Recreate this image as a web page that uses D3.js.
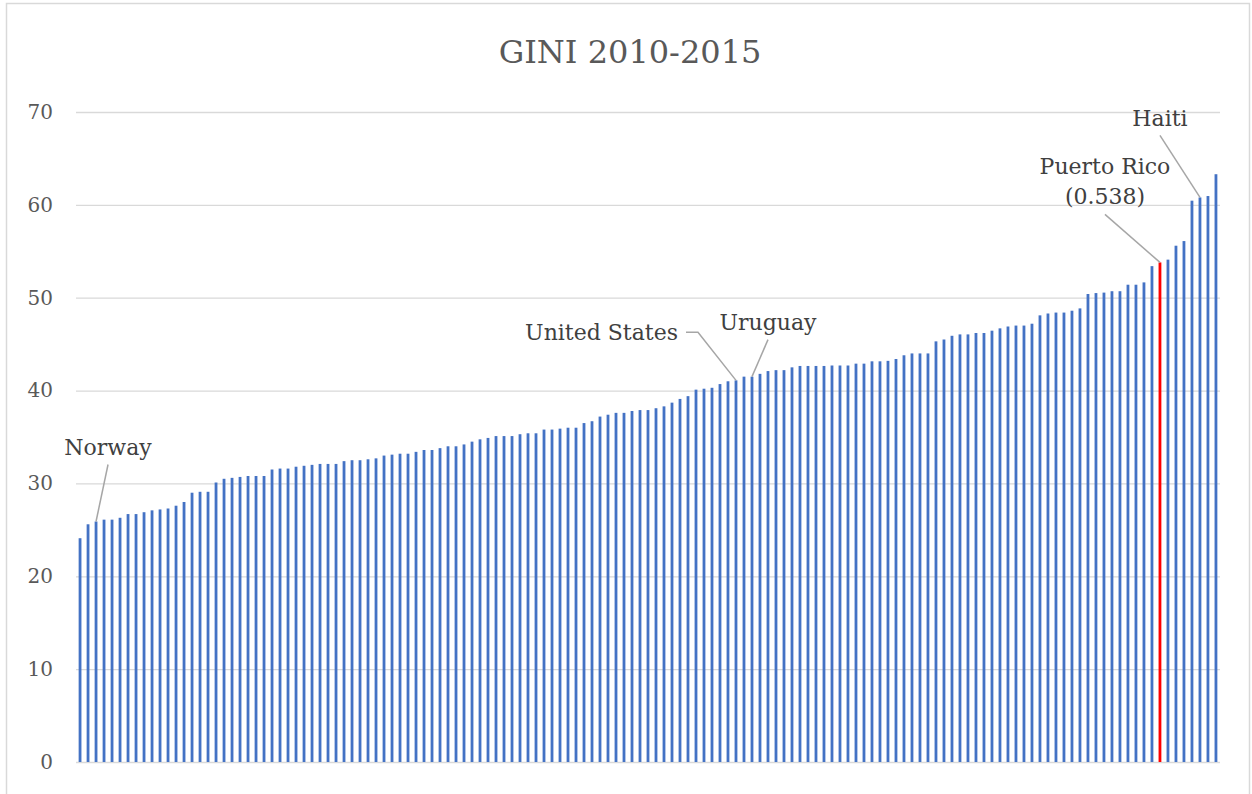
<!DOCTYPE html>
<html>
<head>
<meta charset="utf-8">
<script src="https://cdn.jsdelivr.net/npm/d3@7"></script>
<style>
  body { margin: 0; background: #fff; }
  text { font-family: "DejaVu Serif", serif; }
</style>
</head>
<body>
<svg id="chart" width="1252" height="794"></svg>
<script>
// GINI index per country, 2010-2015, sorted low to high
var gini = [
  24.1, 25.6, 25.9, 26.1, 26.1, 26.3, 26.7, 26.7, 26.9, 27.1,
  27.2, 27.3, 27.6, 28.0, 29.0, 29.1, 29.1, 30.1, 30.5, 30.6,
  30.7, 30.8, 30.8, 30.8, 31.5, 31.6, 31.6, 31.8, 31.9, 32.0,
  32.1, 32.1, 32.1, 32.4, 32.5, 32.5, 32.6, 32.7, 33.0, 33.1,
  33.2, 33.2, 33.4, 33.6, 33.6, 33.8, 34.0, 34.0, 34.2, 34.5,
  34.75, 34.9, 35.1, 35.1, 35.1, 35.3, 35.4, 35.4, 35.8, 35.8,
  35.9, 36.0, 36.0, 36.5, 36.7, 37.2, 37.4, 37.6, 37.6, 37.8,
  37.9, 37.9, 38.1, 38.3, 38.7, 39.1, 39.4, 40.1, 40.2, 40.3,
  40.7, 41.0, 41.1, 41.5, 41.5, 41.8, 42.1, 42.2, 42.2, 42.5,
  42.65, 42.65, 42.65, 42.65, 42.7, 42.7, 42.7, 42.9, 42.9, 43.15,
  43.15, 43.2, 43.4, 43.8, 44.0, 44.0, 44.0, 45.3, 45.5, 45.9,
  46.05, 46.05, 46.2, 46.2, 46.45, 46.7, 46.9, 47.0, 47.0, 47.2,
  48.1, 48.3, 48.4, 48.4, 48.6, 48.85, 50.4, 50.5, 50.55, 50.7,
  50.7, 51.4, 51.4, 51.65, 53.4, 53.8, 54.1, 55.6, 56.1, 60.45,
  60.8, 60.95, 63.3
];

// position (0-based) of the named countries in the sorted list
var namedIndex = [2, 82, 84, 135, 140];
var namedLabel = ['Norway', 'United States', 'Uruguay', 'Puerto Rico\n(0.538)', 'Haiti'];
var highlightIndex = 135;

var yTicks = [0, 10, 20, 30, 40, 50, 60, 70];

var svg = d3.select('#chart');

var x = d3.scaleBand()
  .domain(d3.range(gini.length))
  .range([76, 1220])
  .paddingInner(0.65)
  .paddingOuter(0.33)
  ;

var y = d3.scaleLinear()
  .domain([0, 70])
  .range([762, 112])
  ;

// chart frame
svg.append('rect')
  .attr('x', 6.5)
  .attr('y', 3.5)
  .attr('width', 1243)
  .attr('height', 820)
  .attr('fill', 'none')
  .attr('stroke', '#d9d9d9')
  .attr('stroke-width', 1.5)
  ;

svg.append('text')
  .attr('x', 630)
  .attr('y', 63)
  .attr('text-anchor', 'middle')
  .attr('fill', '#595959')
  .style('font-size', '32px')
  .text('GINI 2010-2015')
  ;

// gridlines + tick labels
var yAxis = d3.axisLeft(y)
  .tickValues(yTicks)
  .tickSize(-(1220 - 76))
  .tickPadding(23)
  ;

var gy = svg.append('g')
  .attr('transform', 'translate(76,0)')
  .call(yAxis)
  ;
gy.select('.domain').remove();
gy.selectAll('.tick line')
  .attr('stroke', '#d9d9d9')
  .attr('stroke-width', 1.3)
  ;
gy.selectAll('.tick text')
  .attr('fill', '#595959')
  .style('font-family', '"DejaVu Serif", serif')
  .style('font-size', '20px')
  ;

svg.append('g')
  .attr('class', 'bars')
  .selectAll('rect')
  .data(gini)
  .enter()
  .append('rect')
  .attr('class', 'bar')
  .attr('id', function(d, i) { return 'bar' + i; })
  .attr('x', function(d, i) { return x(i); })
  .attr('width', x.bandwidth())
  .attr('y', function(d) { return y(d); })
  .attr('height', function(d) { return y(0) - y(d); })
  .attr('fill', function(d, i) { return i == highlightIndex ? '#ff0000' : '#4472c4'; })
  ;

// annotation leaders: label anchor offsets relative to the bar top
var bx = function(i) { return x(i) + x.bandwidth() / 2; };

var notes = svg.append('g').attr('class', 'notes');

var leader = function(pts) {
  notes.append('path')
    .attr('d', d3.line()(pts))
    .attr('fill', 'none')
    .attr('stroke', '#a6a6a6')
    .attr('stroke-width', 1.5)
    ;
};

var label = function(tx, ty, anchor, str) {
  var t = notes.append('text')
    .attr('x', tx)
    .attr('y', ty)
    .attr('text-anchor', anchor)
    .attr('fill', '#404040')
    .style('font-size', '22px')
    ;
  str.split('\n').forEach(function(s, k) {
    t.append('tspan').attr('x', tx).attr('dy', k ? 30 : 0).text(s);
  });
};

// Norway
var i = namedIndex[0];
leader([[bx(i) + 12, y(gini[i]) - 57], [bx(i), y(gini[i])]]);
label(bx(i) + 12, y(gini[i]) - 67, 'middle', namedLabel[0]);

// United States
i = namedIndex[1];
leader([[bx(i) - 50, y(gini[i]) - 48], [bx(i) - 38, y(gini[i]) - 48], [bx(i), y(gini[i])]]);
label(bx(i) - 58, y(gini[i]) - 40, 'end', namedLabel[1]);

// Uruguay
i = namedIndex[2];
leader([[bx(i) + 16, y(gini[i]) - 37], [bx(i), y(gini[i])]]);
label(bx(i) + 16, y(gini[i]) - 47, 'middle', namedLabel[2]);

// Puerto Rico
i = namedIndex[3];
leader([[bx(i) - 55, y(gini[i]) - 48], [bx(i), y(gini[i])]]);
label(bx(i) - 55, y(gini[i]) - 88, 'middle', namedLabel[3]);

// Haiti
i = namedIndex[4];
leader([[bx(i) - 40, y(gini[i]) - 62], [bx(i), y(gini[i])]]);
label(bx(i) - 40, y(gini[i]) - 71, 'middle', namedLabel[4]);
</script>
</body>
</html>
